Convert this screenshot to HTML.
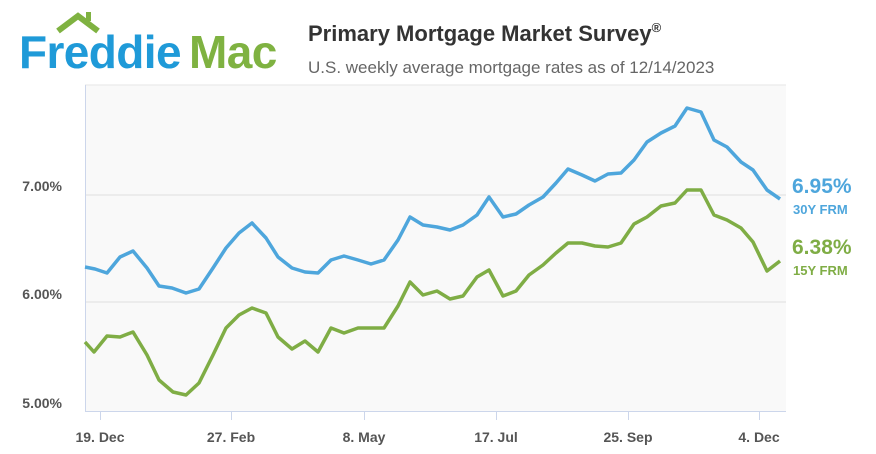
<!DOCTYPE html>
<html><head><meta charset="utf-8"><style>
body{margin:0;background:#fff;}
svg{display:block;font-family:"Liberation Sans",sans-serif;}
</style></head><body>
<svg width="876" height="454" viewBox="0 0 876 454">
<rect width="876" height="454" fill="#fff"/>
<!-- logo -->
<polyline points="58,31 78,16 98,31" fill="none" stroke="#7fb241" stroke-width="6"/>
<rect x="86" y="12" width="5" height="9" fill="#7fb241"/>
<text x="19" y="68" font-size="46" font-weight="bold" fill="#1f9ad8" letter-spacing="-0.6">Freddie</text>
<text x="189" y="68" font-size="46" font-weight="bold" fill="#7fb241" letter-spacing="-0.6">Mac</text>
<text x="308" y="41" font-size="22" font-weight="bold" fill="#333">Primary Mortgage Market Survey<tspan font-size="13" dy="-9">®</tspan></text>
<text x="308" y="73" font-size="17" fill="#666">U.S. weekly average mortgage rates as of 12/14/2023</text>
<!-- plot -->
<rect x="85" y="85" width="701" height="326" fill="#f9f9f9"/>
<line x1="85" y1="85" x2="786" y2="85" stroke="#e6e6e6"/>
<line x1="85" y1="195" x2="786" y2="195" stroke="#dedede"/>
<line x1="85" y1="302" x2="786" y2="302" stroke="#dedede"/>
<line x1="85.5" y1="85" x2="85.5" y2="411" stroke="#ccd6eb"/>
<line x1="85" y1="411.5" x2="786" y2="411.5" stroke="#ccd6eb"/>
<g stroke="#ccd6eb"><line x1="100.5" y1="411" x2="100.5" y2="420"/><line x1="231.5" y1="411" x2="231.5" y2="420"/><line x1="364.5" y1="411" x2="364.5" y2="420"/><line x1="496.5" y1="411" x2="496.5" y2="420"/><line x1="628.5" y1="411" x2="628.5" y2="420"/><line x1="759.5" y1="411" x2="759.5" y2="420"/></g>
<g font-size="14" font-weight="bold" fill="#555">
<text x="62" y="191" text-anchor="end">7.00%</text>
<text x="62" y="299" text-anchor="end">6.00%</text>
<text x="62" y="408" text-anchor="end">5.00%</text>
<g text-anchor="middle"><text x="100" y="442">19. Dec</text><text x="231" y="442">27. Feb</text><text x="364" y="442">8. May</text><text x="496" y="442">17. Jul</text><text x="628" y="442">25. Sep</text><text x="759" y="442">4. Dec</text></g>
</g>
<polyline fill="none" stroke="#4ea6dc" stroke-width="3.5" stroke-linejoin="round" points="85,267 95,269 107,273 120,257 133,251 147,268 159,286 172,288 186,293 199,289 213,268 226,248 239,233 252,223 266,238 278,257 292,268 305,272 318,273 331,260 344,256 358,260 371,264 384,260 398,240 410,217 423,225 437,227 450,230 463,225 477,215 489,197 503,217 516,214 529,205 543,197 556,183 568,169 582,175 595,181 608,174 621,173 634,160 647,142 661,133 675,126 687,108 701,112 714,140 727,147 741,162 753,170 767,190 780,199"/>
<polyline fill="none" stroke="#7fad45" stroke-width="3.5" stroke-linejoin="round" points="85,342 94,352 107,336 120,337 133,332 147,355 159,380 173,392 186,395 199,383 213,355 226,328 239,315 252,308 266,313 278,337 292,349 305,341 318,352 331,328 344,333 358,328 371,328 384,328 398,306 410,282 423,295 437,291 450,299 463,296 477,277 489,270 503,296 516,291 529,275 543,265 556,253 568,243 582,243 595,246 608,247 621,243 634,224 647,217 661,206 675,203 687,190 701,190 714,215 727,220 741,228 753,242 767,271 780,261"/>
<text x="792" y="193" font-size="21" font-weight="bold" fill="#4ea6dc">6.95%</text>
<text x="793" y="214" font-size="13" font-weight="bold" fill="#4ea6dc">30Y FRM</text>
<text x="792" y="254" font-size="21" font-weight="bold" fill="#7fad45">6.38%</text>
<text x="793" y="275" font-size="13" font-weight="bold" fill="#7fad45">15Y FRM</text>
</svg>
</body></html>
